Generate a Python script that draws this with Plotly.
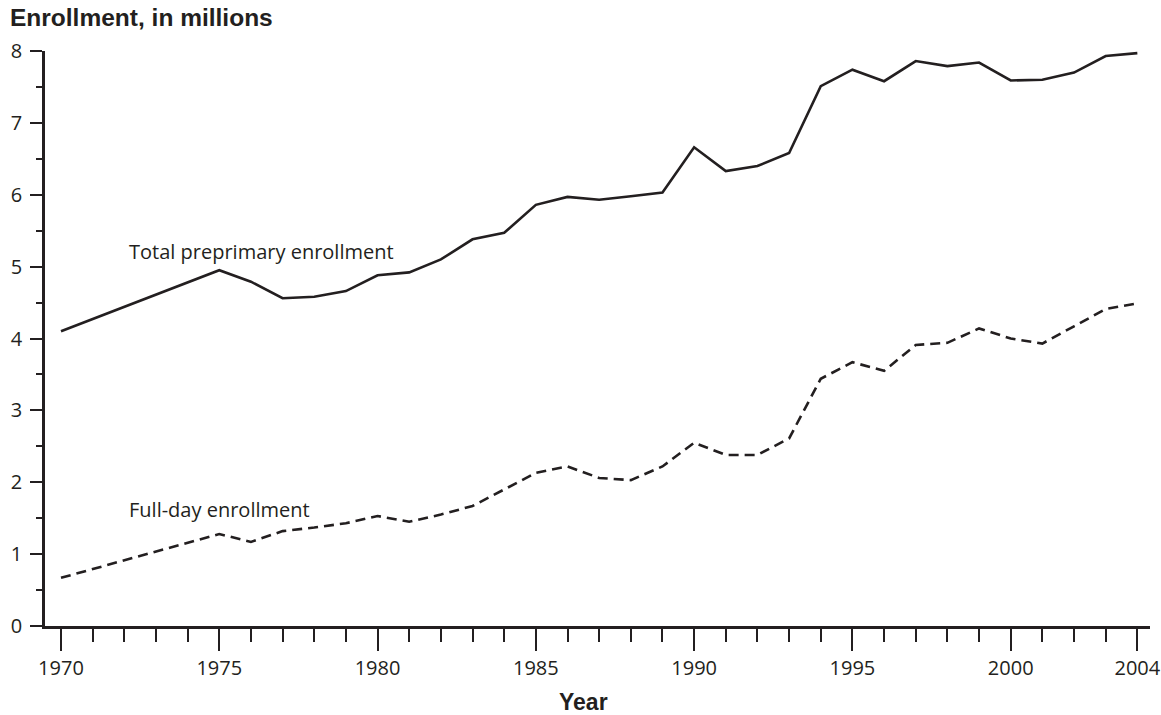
import plotly.graph_objects as go

years = [1970, 1975, 1976, 1977, 1978, 1979, 1980, 1981, 1982, 1983, 1984,
         1985, 1986, 1987, 1988, 1989, 1990, 1991, 1992, 1993, 1994,
         1995, 1996, 1997, 1998, 1999, 2000, 2001, 2002, 2003, 2004]

total_enrollment = [4.10, 4.95, 4.79, 4.56, 4.58, 4.66, 4.88, 4.92, 5.10, 5.38, 5.47,
                    5.86, 5.97, 5.93, 5.98, 6.03, 6.66, 6.33, 6.40, 6.58, 7.51,
                    7.74, 7.58, 7.86, 7.79, 7.84, 7.59, 7.60, 7.70, 7.93, 7.97]

fullday_enrollment = [0.67, 1.28, 1.17, 1.32, 1.37, 1.43, 1.53, 1.45, 1.55, 1.67, 1.90,
                      2.13, 2.22, 2.06, 2.03, 2.22, 2.55, 2.38, 2.38, 2.61, 3.44,
                      3.67, 3.55, 3.91, 3.94, 4.14, 4.00, 3.93, 4.17, 4.41, 4.49]

x_tick_vals = [1970, 1975, 1980, 1985, 1990, 1995, 2000, 2004]
x_tick_text = ["1970", "1975", "1980", "1985", "1990", "1995", "2000", "2004"]
x_minor_vals = list(range(1970, 2005))
y_tick_vals = [0, 1, 2, 3, 4, 5, 6, 7, 8]
y_tick_text = ["0", "1", "2", "3", "4", "5", "6", "7", "8"]

INK = "#231f20"
REG = "Open Sans, Noto Sans, sans-serif"
BOLD = "Liberation Sans, Arial, sans-serif"

fig = go.Figure()
fig.add_trace(go.Scatter(x=years, y=total_enrollment, mode="lines",
                         line=dict(color=INK, width=2.6), hoverinfo="skip",
                         name="Total preprimary enrollment"))
fig.add_trace(go.Scatter(x=years, y=fullday_enrollment, mode="lines",
                         line=dict(color=INK, width=2.6, dash="10px,6px"),
                         hoverinfo="skip", name="Full-day enrollment"))

fig.add_annotation(x=1972.07, y=5.215, xref="x", yref="y", text="Total preprimary enrollment",
                   showarrow=False, xanchor="left", yanchor="middle",
                   font=dict(family=REG, size=20, color=INK))
fig.add_annotation(x=1972.07, y=1.618, xref="x", yref="y", text="Full-day enrollment",
                   showarrow=False, xanchor="left", yanchor="middle",
                   font=dict(family=REG, size=20, color=INK))

# chart title (top-left) and x-axis title
fig.add_annotation(x=-0.0335, y=1.059, xref="paper", yref="paper",
                   text="<b>Enrollment, in millions</b>", showarrow=False,
                   xanchor="left", yanchor="middle",
                   font=dict(family=BOLD, size=24.5, color=INK))
fig.add_annotation(x=0.4875, y=-0.1322, xref="paper", yref="paper",
                   text="<b>Year</b>", showarrow=False,
                   xanchor="center", yanchor="middle",
                   font=dict(family=BOLD, size=23, color=INK))

fig.update_layout(
    width=1161, height=715,
    margin=dict(l=45, r=11, t=51, b=89, autoexpand=False),
    paper_bgcolor="white", plot_bgcolor="white",
    showlegend=False,
    font=dict(family=REG, size=20, color=INK),
)

fig.update_xaxes(
    range=[1969.495, 2004.40], showgrid=False, zeroline=False, automargin=False,
    showline=True, linecolor=INK, linewidth=2.7,
    tickmode="array", tickvals=x_tick_vals, ticktext=x_tick_text,
    ticks="outside", ticklen=22, tickwidth=1.6, tickcolor=INK,
    tickfont=dict(family=REG, size=20, color=INK),
    minor=dict(tickmode="array", tickvals=x_minor_vals, ticks="outside",
               ticklen=13, tickwidth=1.6, tickcolor=INK, showgrid=False),
)

fig.update_yaxes(
    range=[0, 8], showgrid=False, zeroline=False, automargin=False,
    showline=True, linecolor=INK, linewidth=2.7,
    tickmode="array", tickvals=y_tick_vals, ticktext=y_tick_text,
    ticks="outside", ticklen=12, tickwidth=1.6, tickcolor=INK,
    ticklabelstandoff=4,
    tickfont=dict(family=REG, size=20, color=INK),
    minor=dict(dtick=0.5, tick0=0, ticks="outside", ticklen=6,
               tickwidth=1.6, tickcolor=INK, showgrid=False),
)

fig.write_html(
    "out.html",
    config={"displayModeBar": False},
    post_script="document.body.style.margin='0';document.body.style.overflow='hidden';",
)
